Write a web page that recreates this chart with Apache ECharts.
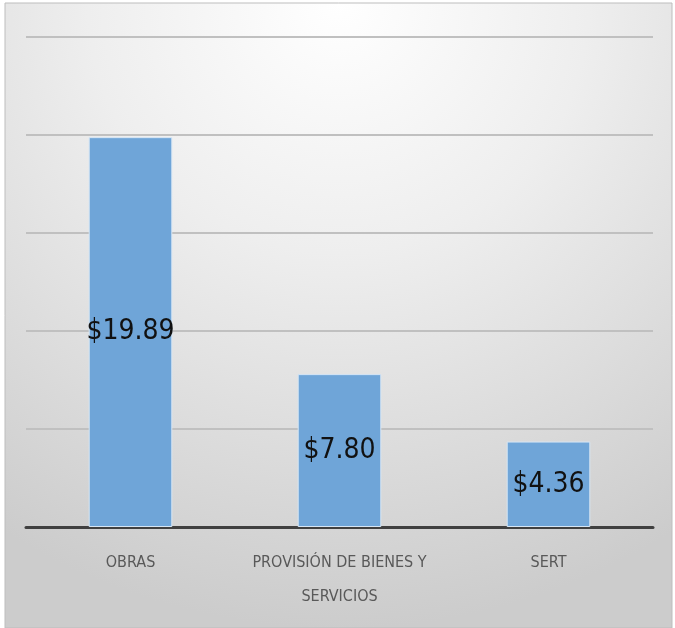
<!DOCTYPE html>
<html>
<head>
<meta charset="utf-8">
<script src="https://cdn.jsdelivr.net/npm/echarts@6/dist/echarts.min.js"></script>
<style>
html,body{margin:0;padding:0;background:#fff;}
#c{width:675px;height:628px;}
</style>
</head>
<body>
<div id="c"></div>
<script>
const categories = ['OBRAS', 'PROVISIÓN DE BIENES Y\nSERVICIOS', 'SERT'];
const values = [19.89, 7.80, 4.36];
const labelTexts = ['$19.89', '$7.80', '$4.36'];

const chart = echarts.init(document.getElementById('c'), null, {renderer: 'canvas'});
const condensed = '"Liberation Sans Narrow", "DejaVu Sans Condensed", "Roboto Condensed", Arial, sans-serif';
chart.setOption({
  animation: false,
  backgroundColor: '#ffffff',
  graphic: [{
    type: 'rect',
    z: -10,
    silent: true,
    shape: {x: 5, y: 3, width: 667, height: 625},
    style: {
      fill: new echarts.graphic.RadialGradient(0.5, 0.0, 1.0, [
        {offset: 0, color: '#ffffff'},
        {offset: 0.4, color: '#eeeeee'},
        {offset: 1, color: '#cccccc'}
      ]),
      stroke: '#bdbdbd',
      lineWidth: 1
    }
  }],
  grid: {left: 26, right: 22, top: 37, bottom: 101, containLabel: false},
  xAxis: {
    type: 'category',
    data: categories,
    axisLine: {show: true, lineStyle: {color: '#404040', width: 3}},
    axisTick: {show: false},
    axisLabel: {
      color: '#595959',
      fontFamily: condensed,
      fontSize: 16,
      lineHeight: 34,
      margin: 19,
      interval: 0
    }
  },
  yAxis: {
    type: 'value',
    min: 0,
    max: 25,
    interval: 5,
    axisLine: {show: false},
    axisTick: {show: false},
    axisLabel: {show: false},
    splitLine: {lineStyle: {color: '#c0c0c0', width: 2}}
  },
  series: [{
    type: 'bar',
    data: values,
    barWidth: '40%',
    itemStyle: {color: '#6fa5d8', borderColor: '#d6e6f5', borderWidth: 1},
    label: {
      show: true,
      position: 'inside',
      color: '#111111',
      fontFamily: condensed,
      fontSize: 28,
      formatter: p => labelTexts[p.dataIndex]
    }
  }]
});
</script>
</body>
</html>
